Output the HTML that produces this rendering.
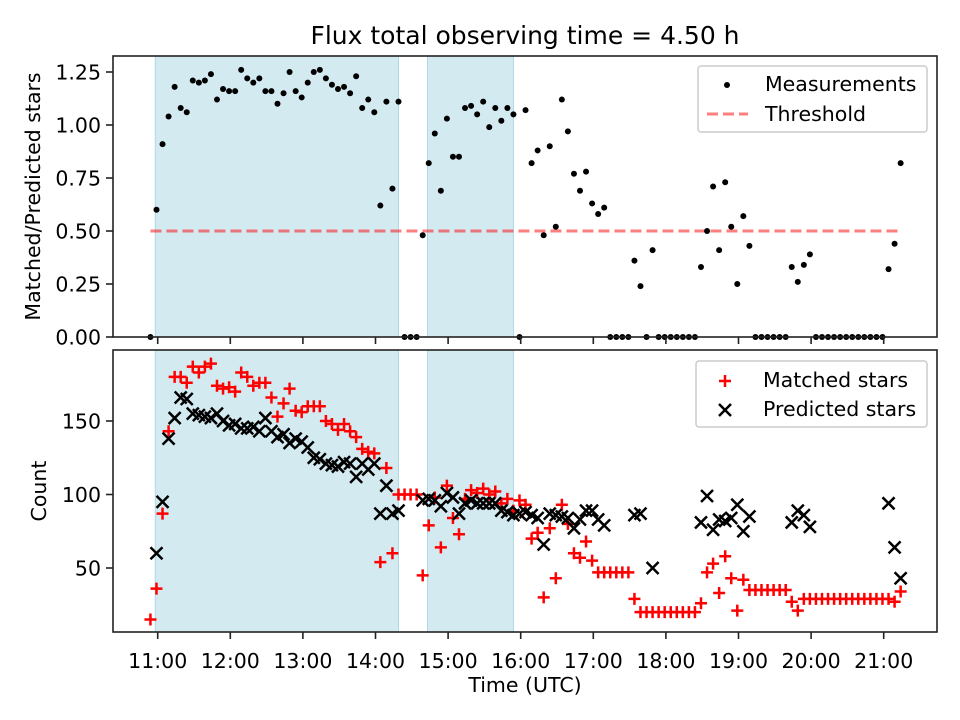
<!DOCTYPE html>
<html><head><meta charset="utf-8"><style>
html,body{margin:0;padding:0;background:#fff;}
svg{display:block;font-family:"DejaVu Sans","Liberation Sans",sans-serif;}
</style></head><body>
<svg id="chart" width="960" height="720" viewBox="0 0 960 720" xmlns="http://www.w3.org/2000/svg">
<rect width="960" height="720" fill="#fff"/>
<text x="525" y="44" font-size="25" text-anchor="middle">Flux total observing time = 4.50 h</text>
<g id="topPanel"></g>
<g id="botPanel"></g>
</svg>
<script>
// time of each sample in minutes since midnight (UTC)
const times = [654,659,664,669,674,679,684,689,694,699,704,709,714,719,724,729,734,739,744,749,754,759,764,769,774,779,784,789,794,799,804,809,814,819,824,829,834,839,844,849,854,859,864,869,874,879,884,889,894,899,904,909,914,919,924,929,934,939,944,949,954,959,964,969,974,979,984,989,994,999,1004,1009,1014,1019,1024,1029,1034,1039,1044,1049,1054,1059,1064,1069,1074,1079,1084,1089,1094,1099,1104,1109,1114,1119,1124,1129,1134,1139,1144,1149,1154,1159,1164,1169,1174,1179,1184,1189,1194,1199,1204,1209,1214,1219,1224,1229,1234,1239,1244,1249,1254,1259,1264,1269,1274];
const ratio = [0,0.60,0.91,1.04,1.18,1.08,1.06,1.21,1.20,1.21,1.24,1.12,1.17,1.16,1.16,1.26,1.22,1.20,1.22,1.16,1.16,1.10,1.15,1.25,1.16,1.13,1.20,1.25,1.26,1.22,1.19,1.17,1.18,1.15,1.23,1.08,1.12,1.06,0.62,1.11,0.70,1.11,0,0,0,0.48,0.82,0.96,0.69,1.03,0.85,0.85,1.08,1.09,1.05,1.11,0.99,1.08,1.02,1.08,1.05,0,1.07,0.82,0.88,0.48,0.90,0.52,1.12,0.97,0.77,0.69,0.78,0.63,0.58,0.61,0,0,0,0,0.36,0.24,0,0.41,0,0,0,0,0,0,0,0.33,0.50,0.71,0.41,0.73,0.52,0.25,0.57,0.43,0,0,0,0,0,0,0.33,0.26,0.34,0.39,0,0,0,0,0,0,0,0,0,0,0,0,0.32,0.44,0.82];
const matched = [15,36,87,143,180,180,176,187,183,187,189,174,172,173,170,183,180,174,176,176,166,153,162,172,157,156,160,160,160,150,148,144,148,143,139,131,129,128,54,118,60,100,100,100,100,45,79,98,64,106,84,73,97,103,101,104,100,102,94,97,89,96,93,70,74,30,77,43,93,80,60,57,68,55,47,47,47,47,47,47,29,20,20,20,20,20,20,20,20,20,20,26,47,53,33,58,43,21,42,35,35,35,35,35,35,35,27,21,29,29,29,29,29,29,29,29,29,29,29,29,29,29,29,27,34];
const predicted = [null,60,95,138,152,166,165,155,154,153,152,155,150,147,148,145,145,146,143,152,143,139,141,135,138,136,132,125,124,121,120,119,122,121,112,121,117,121,87,106,87,89,null,null,null,96,97,96,92,101,98,87,94,96,94,94,94,94,89,88,86,87,88,86,84,66,87,86,85,84,77,83,89,89,83,79,null,null,null,null,86,87,null,50,null,null,null,null,null,null,null,81,99,76,83,82,84,93,75,85,null,null,null,null,null,null,81,89,86,78,null,null,null,null,null,null,null,null,null,null,null,null,94,64,43];
const threshold = [0.5];
const shadedStart = [658, 883];
const shadedEnd = [859, 954];
const xTickLabels = ["11:00","12:00","13:00","14:00","15:00","16:00","17:00","18:00","19:00","20:00","21:00"];
const xTickMinutes = [660,720,780,840,900,960,1020,1080,1140,1200,1260];
const topTicks = [0,0.25,0.5,0.75,1.0,1.25];
const topTickLabels = ["0.00","0.25","0.50","0.75","1.00","1.25"];
const botTicks = [50,100,150];

const NS="http://www.w3.org/2000/svg";
const L=113,R=937;
const X=t=>157.7+(t-660)*1.21;
const TT=56,TB=337, BT=350,BB=632;
const YT=v=>337-212*v;
const YB=c=>641.5-c*1.47;
const FS=20.5;
function mk(p,tag,a){const e=document.createElementNS(NS,tag);for(const k in a)e.setAttribute(k,a[k]);p.appendChild(e);return e;}
const topG=document.getElementById('topPanel'), botG=document.getElementById('botPanel');

function shades(g,y0,y1){
  for(let i=0;i<shadedStart.length;i++){
    const r=mk(g,'rect',{x:X(shadedStart[i]),y:y0,width:X(shadedEnd[i])-X(shadedStart[i]),height:y1-y0,fill:'#d4eaf1',stroke:'#add8e6','stroke-width':1});
    
    
  }
}
function xaxis(g,yb,labels){
  xTickMinutes.forEach((t,i)=>{
    mk(g,'line',{x1:X(t),x2:X(t),y1:yb,y2:yb+7,stroke:'#222','stroke-width':1.6});
    if(labels){const tx=mk(g,'text',{x:X(t),y:yb+36,'font-size':FS,'text-anchor':'middle'});tx.textContent=xTickLabels[i];
      
      }
  });
}
// TOP PANEL
shades(topG,TT,TB);
const th=mk(topG,'line',{x1:X(times[0]),x2:X(times[times.length-1]),y1:YT(threshold[0]),y2:YT(threshold[0]),stroke:'#ff0000','stroke-opacity':0.5,'stroke-width':3,'stroke-dasharray':'11,5'});


times.forEach((t,i)=>{
  if(ratio[i]===undefined||ratio[i]===null)return;
  const c=mk(topG,'circle',{cx:X(t),cy:YT(ratio[i]),r:3,fill:'#000'});
  
  
});
topTicks.forEach((v,i)=>{
  mk(topG,'line',{x1:L-7,x2:L,y1:YT(v),y2:YT(v),stroke:'#222','stroke-width':1.6});
  const tx=mk(topG,'text',{x:L-12,y:YT(v)+7.5,'font-size':FS,'text-anchor':'end'});tx.textContent=topTickLabels[i];
  
  
});
xaxis(topG,TB,false);
mk(topG,'rect',{x:L,y:TT,width:R-L,height:TB-TT,fill:'none',stroke:'#222','stroke-width':1.6});
const yl1=mk(topG,'text',{x:0,y:0,'font-size':FS,'text-anchor':'middle',transform:`translate(40,${(TT+TB)/2}) rotate(-90)`});yl1.textContent='Matched/Predicted stars';


const lg1=mk(topG,'g',{});


mk(lg1,'rect',{x:698,y:66,width:229,height:66,rx:3,fill:'#fff','fill-opacity':0.8,stroke:'#ccc','stroke-width':1.5});
mk(lg1,'circle',{cx:727,cy:85,r:3,fill:'#000'});
let t1=mk(lg1,'text',{x:765,y:91,'font-size':FS});t1.textContent='Measurements';
mk(lg1,'line',{x1:707,x2:748,y1:114,y2:114,stroke:'#ff0000','stroke-opacity':0.5,'stroke-width':3,'stroke-dasharray':'11,5'});
let t2=mk(lg1,'text',{x:765,y:121,'font-size':FS});t2.textContent='Threshold';

// BOTTOM PANEL
shades(botG,BT,BB);
function plus(g,x,y){return mk(g,'path',{d:`M${x-6},${y}H${x+6}M${x},${y-6}V${y+6}`,stroke:'#ff0000','stroke-width':2.5});}
function cross(g,x,y){return mk(g,'path',{d:`M${x-6},${y-6}L${x+6},${y+6}M${x-6},${y+6}L${x+6},${y-6}`,stroke:'#000','stroke-width':2.5});}
times.forEach((t,i)=>{
  if(matched[i]!==null&&matched[i]!==undefined){const p=plus(botG,X(t),YB(matched[i]));
    
    }
});
times.forEach((t,i)=>{
  if(predicted[i]!==null&&predicted[i]!==undefined){const p=cross(botG,X(t),YB(predicted[i]));
    
    }
});
botTicks.forEach(v=>{
  mk(botG,'line',{x1:L-7,x2:L,y1:YB(v),y2:YB(v),stroke:'#222','stroke-width':1.6});
  const tx=mk(botG,'text',{x:L-12,y:YB(v)+7.5,'font-size':FS,'text-anchor':'end'});tx.textContent=String(v);
  
  
});
xaxis(botG,BB,true);
mk(botG,'rect',{x:L,y:BT,width:R-L,height:BB-BT,fill:'none',stroke:'#222','stroke-width':1.6});
const yl2=mk(botG,'text',{x:0,y:0,'font-size':FS,'text-anchor':'middle',transform:`translate(46,${(BT+BB)/2}) rotate(-90)`});yl2.textContent='Count';


const xl=mk(botG,'text',{x:525,y:692,'font-size':FS,'text-anchor':'middle'});xl.textContent='Time (UTC)';


const lg2=mk(botG,'g',{});


mk(lg2,'rect',{x:696,y:361,width:231,height:66,rx:3,fill:'#fff','fill-opacity':0.8,stroke:'#ccc','stroke-width':1.5});
plus(lg2,725,381);
let t3=mk(lg2,'text',{x:763,y:387,'font-size':FS});t3.textContent='Matched stars';
cross(lg2,725,410);
let t4=mk(lg2,'text',{x:763,y:416,'font-size':FS});t4.textContent='Predicted stars';
</script>
</body></html>
